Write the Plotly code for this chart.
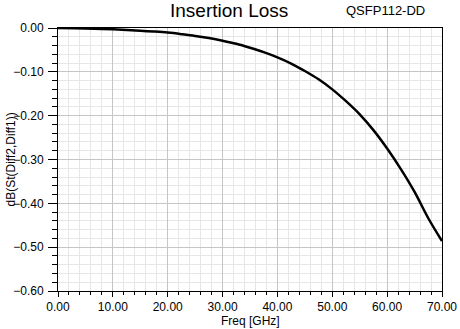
import plotly.graph_objects as go

# Insertion loss of the QSFP112-DD channel, dB(St(Diff2,Diff1)) vs frequency
freq_ghz = [0, 5, 10, 15, 17.5, 20, 22.5, 25, 27.5, 30, 32.5, 35, 37.5, 40,
            42.5, 45, 47.5, 50, 52.5, 55, 57.5, 60, 62.5, 65, 67.5, 70]
insertion_loss_db = [0.000, -0.001, -0.003, -0.006, -0.008, -0.0105, -0.014,
                     -0.018, -0.023, -0.029, -0.036, -0.045, -0.055, -0.067,
                     -0.081, -0.098, -0.117, -0.140, -0.167, -0.197, -0.233,
                     -0.275, -0.322, -0.374, -0.434, -0.486]

x_ticks = [0, 10, 20, 30, 40, 50, 60, 70]
y_ticks = [0.0, -0.1, -0.2, -0.3, -0.4, -0.5, -0.6]

FONT = "Liberation Sans, Arial, sans-serif"
PLOT_W, PLOT_H = 384, 263  # plotting area in px

fig = go.Figure()
fig.add_trace(go.Scatter(
    x=freq_ghz, y=insertion_loss_db, mode="lines",
    line=dict(color="black", width=2.5, shape="spline", smoothing=1.0),
    hoverinfo="x+y", showlegend=False,
))

axis_common = dict(
    showline=True, linecolor="black", linewidth=1, mirror=True,
    ticks="outside", tickcolor="black", tickwidth=1,
    showgrid=True, gridcolor="#c6c6c6", gridwidth=1,
    zeroline=False, tickformat=".2f", automargin=False,
    tickfont=dict(family=FONT, size=12, color="black"),
)

fig.update_xaxes(
    range=[0, 70], tickvals=x_ticks, ticklen=5,
    minor=dict(dtick=2, ticks="outside", ticklen=3, tickcolor="black",
               showgrid=True, gridcolor="#e6e6e6", gridwidth=1),
    **axis_common,
)
fig.update_yaxes(
    range=[-0.6, 0], tickvals=y_ticks, ticklen=9, ticklabelstandoff=2,
    minor=dict(dtick=0.02, ticks="outside", ticklen=5, tickcolor="black",
               showgrid=True, gridcolor="#e6e6e6", gridwidth=1),
    **axis_common,
)

# Axis titles
fig.add_annotation(
    text="Freq [GHz]", xref="paper", yref="paper",
    x=0.5, y=-(321 - 291) / PLOT_H, xanchor="center", yanchor="middle",
    showarrow=False, font=dict(family=FONT, size=12, color="black"),
)
fig.add_annotation(
    text="dB(St(Diff2,Diff1))", xref="paper", yref="paper", textangle=-90,
    x=-(58 - 10) / PLOT_W, y=0.5, xanchor="center", yanchor="middle",
    showarrow=False, font=dict(family=FONT, size=12, color="black"),
)

# Chart title and channel name
fig.add_annotation(
    text="Insertion Loss", xref="paper", yref="paper",
    x=(229 - 58) / PLOT_W, y=1 + (28 - 10) / PLOT_H,
    xanchor="center", yanchor="middle",
    showarrow=False, font=dict(family=FONT, size=19, color="black"),
)
fig.add_annotation(
    text="QSFP112-DD", xref="paper", yref="paper",
    x=(385 - 58) / PLOT_W, y=1 + (28 - 10) / PLOT_H,
    xanchor="center", yanchor="middle",
    showarrow=False, font=dict(family=FONT, size=13, color="black"),
)

fig.update_layout(
    width=460, height=329,
    margin=dict(l=58, r=18, t=28, b=38),
    paper_bgcolor="white", plot_bgcolor="white",
    font=dict(family=FONT, size=12, color="black"),
)

fig.write_html("out.html")
